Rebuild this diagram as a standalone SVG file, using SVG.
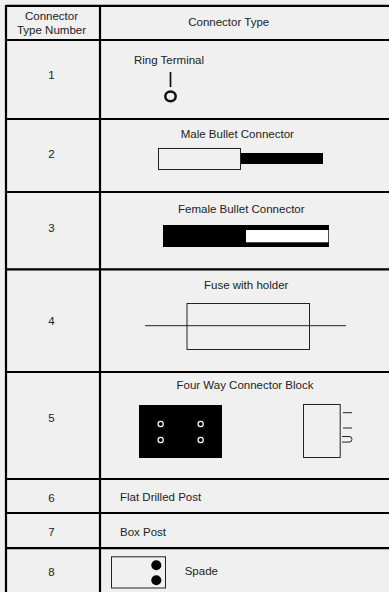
<svg xmlns="http://www.w3.org/2000/svg" width="389" height="592" viewBox="0 0 389 592">
<style>
text{font-family:"Liberation Sans",Arial,sans-serif;font-size:11.5px;fill:#222;text-anchor:middle}
.s{text-anchor:start}
.g{stroke:#000;stroke-width:2.2;fill:none}
.o{stroke:#222;stroke-width:1;fill:none}
.b{fill:#000;stroke:none}
</style>
<rect width="389" height="592" fill="#f0f0f0"/>
<g id="grid" class="g">
<path d="M6 5.900H389M6 40H389M6 119H389M6 192H389M6 269.300H389M6 372H389M6 479H389M6 513H389M6 548.200H389M6 5V592M100 5V592"/>
</g>
<g id="header"><text x="51.500" y="20">Connector</text><text x="51.500" y="34">Type Number</text><text x="228.700" y="26">Connector Type</text></g>
<g id="row1"><text x="51.500" y="79">1</text><text x="169" y="64">Ring Terminal</text><path d="M170.500 72V87" stroke="#111" stroke-width="1.700" fill="none"/><ellipse cx="170.500" cy="96.300" rx="5.200" ry="4.900" fill="none" stroke="#111" stroke-width="2.500"/></g>
<g id="row2"><text x="51.500" y="158">2</text><text x="237.300" y="138">Male Bullet Connector</text><rect class="o" x="158.500" y="148.500" width="82" height="21"/><rect class="b" x="241" y="153" width="82" height="11"/></g>
<g id="row3"><text x="51.500" y="232">3</text><text x="241.300" y="213">Female Bullet Connector</text><rect class="b" x="163" y="225" width="166" height="22"/><rect x="246" y="230" width="82.300" height="12.300" fill="#fff"/></g>
<g id="row4"><text x="51.500" y="325">4</text><text x="246.200" y="289">Fuse with holder</text><rect class="o" x="187" y="303.500" width="122.500" height="46"/><path class="o" d="M145 325.700H346"/></g>
<g id="row5"><text x="51.500" y="422">5</text><text x="245" y="389">Four Way Connector Block</text><rect class="b" x="139" y="405" width="83" height="53"/><g fill="none" stroke="#fff" stroke-width="1.200"><circle cx="160.700" cy="424" r="2.600"/><circle cx="200.700" cy="424" r="2.600"/><circle cx="160.700" cy="440" r="2.600"/><circle cx="200.700" cy="440" r="2.600"/></g><rect class="o" x="303.500" y="404.500" width="36.700" height="53"/><path class="o" d="M342.800 412.700H352M343 428H352M342 436.500H349A3 2.800 0 0 1 349 442.100H342"/></g>
<g id="row6"><text x="51.500" y="502">6</text><text class="s" x="120" y="501">Flat Drilled Post</text></g>
<g id="row7"><text x="51.500" y="536">7</text><text class="s" x="120" y="536">Box Post</text></g>
<g id="row8"><text x="51.500" y="576">8</text><text class="s" x="184.700" y="575">Spade</text><rect class="o" x="111.500" y="556.800" width="54" height="31.200"/><circle cx="156.300" cy="565.300" r="5" fill="#000"/><circle cx="156.300" cy="580.300" r="5" fill="#000"/></g>
</svg>
